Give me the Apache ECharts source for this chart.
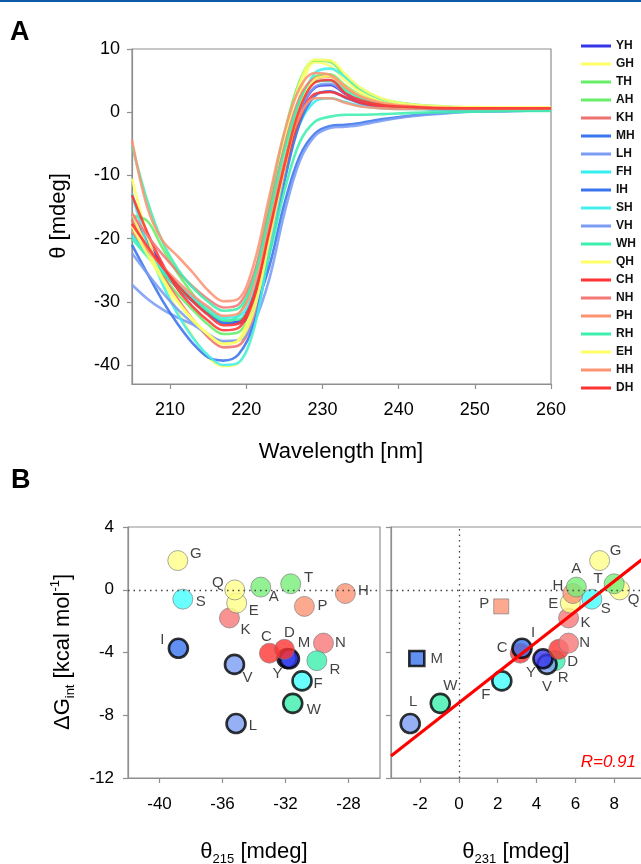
<!DOCTYPE html>
<html><head><meta charset="utf-8">
<script src="https://cdn.jsdelivr.net/npm/echarts@6/dist/echarts.min.js"></script>
<style>html,body{margin:0;padding:0;background:#fff}#c{width:641px;height:864px}</style>
</head><body><div id="c"></div>
<script>
const FONT = '"Liberation Sans", Arial, Helvetica, sans-serif';

// ---------- Panel A data ----------
const wavelengths = [205,207,209,211,213,215,217,219,221,223,225,227,229,231,233,235,238,242,246,250,255,260];
const YH = [-16.1,-20.5,-24.3,-27.4,-29.8,-31.8,-33.3,-33.1,-28.9,-19.0,-8.7,-0.1,3.9,4.3,2.9,1.6,0.8,0.6,0.5,0.5,0.5,0.5];
const GH = [-10.5,-19.5,-26.5,-31.5,-35.5,-38.8,-40.2,-39.7,-34.4,-21.8,-8.7,2.5,7.9,7.3,5.0,3.2,1.8,1.1,0.8,0.7,0.7,0.7];
const TH = [-16.4,-17.2,-21.5,-25.5,-28.8,-31.7,-33.2,-32.1,-26.2,-14.6,-3.4,4.9,8.2,8.0,5.6,3.6,2.0,1.2,0.9,0.7,0.6,0.5];
const AH = [-19.0,-22.5,-25.8,-28.8,-31.3,-33.6,-35.1,-34.8,-30.2,-19.4,-8.2,1.3,5.6,6.0,4.2,2.7,1.5,1.0,0.7,0.6,0.5,0.5];
const KH = [-17.0,-21.5,-25.8,-29.5,-32.8,-35.6,-37.2,-36.9,-32.1,-20.9,-9.2,0.7,5.1,5.6,3.9,2.5,1.4,0.9,0.7,0.6,0.5,0.5];
const MH = [-19.0,-22.3,-25.3,-27.8,-30.0,-31.9,-33.3,-33.4,-31.0,-24.5,-14.5,-7.0,-3.4,-2.2,-2.0,-1.7,-1.1,-0.5,-0.1,0.1,0.2,0.3];
const LH = [-27.3,-29.5,-31.2,-32.5,-33.6,-35.1,-36.2,-36.1,-33.3,-26.5,-16.0,-7.8,-3.8,-2.5,-2.3,-2.0,-1.3,-0.6,-0.2,0.1,0.2,0.3];
const FH = [-19.5,-22.3,-25.0,-27.3,-29.3,-31.0,-32.5,-32.3,-28.4,-19.3,-9.9,-1.9,1.7,2.2,1.6,1.0,0.6,0.5,0.4,0.4,0.4,0.4];
const IH = [-21.0,-25.5,-29.8,-33.5,-36.6,-38.8,-39.3,-38.3,-33.5,-22.5,-11.0,-1.8,2.6,3.3,2.3,1.4,0.8,0.6,0.5,0.5,0.5,0.5];
const SH = [-12.9,-21.0,-27.2,-32.0,-35.7,-38.5,-40.0,-39.6,-34.3,-22.0,-9.4,1.0,6.2,6.9,5.6,3.8,2.0,1.2,0.8,0.6,0.5,0.4];
const VH = [-22.3,-25.5,-28.5,-31.2,-33.4,-35.2,-36.4,-36.0,-31.4,-20.5,-9.3,0.0,4.0,4.5,3.0,1.8,1.0,0.7,0.6,0.5,0.5,0.5];
const WH = [-20.0,-22.8,-25.4,-27.7,-29.8,-31.5,-32.9,-32.8,-30.0,-22.6,-12.5,-4.8,-1.5,-0.7,-0.4,-0.4,-0.3,-0.1,0.0,0.1,0.2,0.2];
const QH = [-16.0,-21.5,-26.2,-30.0,-33.0,-35.2,-36.7,-36.0,-30.0,-17.5,-4.8,4.5,8.3,8.2,6.0,3.9,2.1,1.2,0.9,0.8,0.7,0.7];
const CH = [-13.1,-19.0,-24.0,-28.0,-30.8,-33.0,-34.5,-34.1,-29.5,-19.5,-9.2,-1.0,2.9,3.2,2.4,1.5,0.9,0.7,0.6,0.6,0.6,0.6];
const NH = [-16.0,-19.5,-22.5,-25.2,-27.6,-29.6,-30.9,-30.4,-25.6,-15.8,-5.5,2.3,5.4,5.7,4.0,2.5,1.4,0.9,0.7,0.6,0.6,0.6];
const PH = [-18.9,-21.8,-24.4,-26.8,-29.0,-30.8,-32.2,-31.8,-27.3,-17.6,-7.8,-0.6,2.2,2.2,1.5,0.9,0.6,0.5,0.5,0.5,0.5,0.5];
const RH = [-5.2,-14.0,-20.5,-24.8,-27.8,-30.0,-31.4,-31.0,-26.3,-16.4,-6.2,1.7,4.8,5.0,3.5,2.2,1.2,0.8,0.6,0.5,0.5,0.4];
const EH = [-18.0,-22.5,-26.5,-30.0,-32.8,-35.1,-36.6,-36.2,-31.4,-20.4,-9.0,0.6,5.2,5.7,4.0,2.6,1.5,1.0,0.8,0.7,0.7,0.7];
const HH = [-4.4,-15.0,-20.3,-22.8,-25.4,-28.2,-29.9,-29.5,-24.0,-13.5,-3.2,3.8,6.2,5.9,4.0,2.5,1.4,0.9,0.7,0.6,0.6,0.6];
const DH = [-17.7,-21.2,-24.5,-27.4,-29.9,-32.1,-33.7,-33.4,-29.0,-19.0,-8.5,0.5,4.7,5.1,3.0,1.9,1.1,0.8,0.6,0.6,0.6,0.6];
const curveNames = ['YH','GH','TH','AH','KH','MH','LH','FH','IH','SH','VH','WH','QH','CH','NH','PH','RH','EH','HH','DH'];
const curveValues = [YH,GH,TH,AH,KH,MH,LH,FH,IH,SH,VH,WH,QH,CH,NH,PH,RH,EH,HH,DH];
const ticksA_x = [210,220,230,240,250,260];
const ticksA_y = [-40,-30,-20,-10,0,10];

// ---------- Panel B data ----------
const residues = ['Y','G','T','A','K','M','L','F','I','S','V','W','Q','C','N','P','R','E','H','D'];
const theta215 = [-31.75,-38.84,-31.67,-33.57,-35.56,-31.9,-35.14,-30.95,-38.8,-38.52,-35.24,-31.54,-35.22,-33.02,-29.59,-30.8,-30.01,-35.1,-28.2,-32.07];
const theta231 = [4.33,7.25,8.0,6.05,5.65,-2.17,-2.51,2.21,3.25,6.85,4.54,-0.96,8.28,3.16,5.65,2.18,4.96,5.74,5.87,5.14];
const dGint = [-4.4,1.86,0.38,0.17,-1.8,-4.38,-8.53,-5.81,-3.73,-0.6,-4.76,-7.24,-0.01,-4.04,-3.4,-1.06,-4.52,-0.85,-0.24,-3.8];
const fitX = [-3.5, 10];
const fitY = [-10.6, 2.48];
const ticksBL_x = [-40,-36,-32,-28];
const ticksBR_x = [-2,0,2,4,6,8,10];
const rLabel = 'R=0.91';

// ---------- styles ----------
const curveColors = {YH:'#3535ea',GH:'#ffff66',TH:'#66ee66',AH:'#66ee66',KH:'#f07070',MH:'#3a74ee',LH:'#7a9cf2',
  FH:'#33eeee',IH:'#3a74ee',SH:'#44eeee',VH:'#7a9cf2',WH:'#3cefae',QH:'#ffff66',CH:'#ff3333',NH:'#f77777',
  PH:'#fc9474',RH:'#3cefae',EH:'#ffff66',HH:'#fc9474',DH:'#ff3333'};
const resColor = {Y:'#3535ea',G:'#ffff88',T:'#77ee77',A:'#77ee77',K:'#f77777',M:'#3a74ee',L:'#7a9cf2',F:'#44ffff',
  I:'#3a74ee',S:'#44ffff',V:'#7a9cf2',W:'#3cefae',Q:'#ffff88',C:'#ff3333',N:'#f77777',P:'#fc9474',R:'#3cefae',
  E:'#ffff88',H:'#fc9474',D:'#ff3333'};
const thick = {I:1,V:1,L:1,Y:1,M:1,F:1,W:1};
const leftOrder = ['G','S','I','K','E','Q','A','T','P','H','M','Y','C','D','N','R','V','L','F','W'];
const rightOrder = ['L','W','M','F','P','C','I','R','V','Y','D','N','K','E','H','A','S','Q','T','G'];
const leftOff = {G:[18,-7],S:[18,3],I:[-16,-8],Q:[-17,-7],E:[17,8],K:[16,12],V:[13,13],L:[17,2],A:[13,10],T:[18,-6],
  P:[18,-1],C:[-3,-16],D:[5,-17],M:[17,-16],Y:[-12,15],N:[17,0],R:[18,9],F:[16,3],W:[21,7],H:[18,-3]};
const rightOff = {G:[16,-10],A:[0,-18],H:[-15,-8],E:[-17,1],S:[14,10],T:[-16,-5],Q:[14,10],K:[17,5],P:[-17,-3],
  I:[11,-15],C:[-18,-5],Y:[-12,14],V:[0,22],R:[8,17],D:[14,12],N:[16,0],M:[20,0],W:[10,-17],L:[3,-22],F:[-16,14]};

function pt(r, x, y, panel) {
  const th = !!thick[r];
  const sq = panel === 'R' && (r === 'P' || r === 'M');
  return {
    value: [x, y], name: r,
    symbol: sq ? 'rect' : 'circle',
    symbolSize: sq ? 15 : (th ? 19 : 20),
    itemStyle: {color: resColor[r], borderColor: th ? '#000' : '#777', borderWidth: th ? 2.6 : 0.8},
    label: {show: true, formatter: r, position: 'inside', offset: (panel === 'R' ? rightOff : leftOff)[r],
      color: '#111', fontSize: 15, fontFamily: FONT}
  };
}
const leftData = leftOrder.map(r => { const i = residues.indexOf(r); return pt(r, theta215[i], dGint[i], 'L'); });
const rightData = rightOrder.map(r => { const i = residues.indexOf(r); return pt(r, theta231[i], dGint[i], 'R'); });

const AX = '#8f8f8f';
function vAxis(grid, min, max, extra) {
  return Object.assign({
    gridIndex: grid, type: 'value', min: min, max: max, splitLine: {show: false},
    axisLine: {show: true, onZero: false, lineStyle: {color: AX, width: 1.2}},
    axisTick: {show: true, inside: false, length: 5, lineStyle: {color: AX, width: 1.2}},
    axisLabel: {show: true, color: '#000', fontSize: 17, fontFamily: FONT}
  }, extra);
}

const series = curveNames.map((n, k) => ({
  name: n, type: 'line', xAxisIndex: 0, yAxisIndex: 0, smooth: 0.35, symbol: 'none', showSymbol: false,
  lineStyle: {color: curveColors[n], width: 2.6, opacity: 0.88}, itemStyle: {color: curveColors[n]},
  data: wavelengths.map((w, i) => [w, curveValues[k][i]]), z: 2
}));
const dotted = {type: [1.5, 4], color: '#444', width: 1.3};
series.push({
  name: 'left', type: 'scatter', xAxisIndex: 1, yAxisIndex: 1, data: leftData, z: 3,
  markLine: {silent: true, symbol: ['none','none'], label: {show: false}, lineStyle: dotted, data: [{yAxis: 0}], animation: false}
});
series.push({
  name: 'right', type: 'scatter', xAxisIndex: 2, yAxisIndex: 2, data: rightData, z: 3,
  markLine: {silent: true, symbol: ['none','none'], label: {show: false}, lineStyle: dotted, data: [{yAxis: 0}, {xAxis: 0}], animation: false}
});
series.push({
  name: 'fit', type: 'line', xAxisIndex: 2, yAxisIndex: 2, symbol: 'none', z: 4,
  lineStyle: {color: '#ff0000', width: 3}, data: fitX.map((x, i) => [x, fitY[i]])
});

const T = (o) => Object.assign({type: 'text'}, o);
const option = {
  animation: false,
  backgroundColor: '#fff',
  grid: [
    {left: 132, top: 49, width: 419, height: 335, show: true, borderColor: AX, borderWidth: 1.2, outerBoundsMode: 'none', containLabel: false},
    {left: 128, top: 527, width: 252, height: 251, show: true, borderColor: AX, borderWidth: 1.2, outerBoundsMode: 'none', containLabel: false},
    {left: 391, top: 527, width: 262, height: 251, show: true, borderColor: AX, borderWidth: 1.2, outerBoundsMode: 'none', containLabel: false}
  ],
  xAxis: [
    vAxis(0, 205, 260, {axisTick: {show: true, length: 5, customValues: ticksA_x, lineStyle: {color: AX, width: 1.2}},
      axisLabel: {customValues: ticksA_x, color: '#000', fontSize: 18, fontFamily: FONT, margin: 17}}),
    vAxis(1, -42, -26, {axisTick: {show: true, length: 5, customValues: ticksBL_x, lineStyle: {color: AX, width: 1.2}},
      axisLabel: {customValues: ticksBL_x, color: '#000', fontSize: 17, fontFamily: FONT, margin: 18}}),
    vAxis(2, -3.5, 10, {axisTick: {show: true, length: 5, customValues: ticksBR_x, lineStyle: {color: AX, width: 1.2}},
      axisLabel: {customValues: ticksBR_x, color: '#000', fontSize: 17, fontFamily: FONT, margin: 18}})
  ],
  yAxis: [
    vAxis(0, -43, 10, {axisTick: {show: true, length: 5, customValues: ticksA_y, lineStyle: {color: AX, width: 1.2}},
      axisLabel: {customValues: ticksA_y, color: '#000', fontSize: 18, fontFamily: FONT, margin: 12}}),
    vAxis(1, -12, 4, {interval: 4, axisLabel: {color: '#000', fontSize: 17, fontFamily: FONT, margin: 14}}),
    vAxis(2, -12, 4, {interval: 4, axisLabel: {show: false}})
  ],
  legend: {
    orient: 'vertical', left: 581, top: 40, padding: 0, itemWidth: 30, itemHeight: 3, itemGap: 6, icon: 'rect',
    textStyle: {fontSize: 12, fontWeight: 'bold', fontFamily: FONT, color: '#111', lineHeight: 12},
    data: curveNames, selectedMode: false
  },
  series: series,
  graphic: [
    {type: 'rect', shape: {x: 0, y: 0, width: 641, height: 2}, style: {fill: '#0f5aa6'}},
    T({x: 10, y: 19, style: {text: 'A', fontSize: 27, fontWeight: 'bold', fontFamily: FONT, fill: '#000'}}),
    T({x: 11, y: 467, style: {text: 'B', fontSize: 27, fontWeight: 'bold', fontFamily: FONT, fill: '#000'}}),
    T({x: 341, y: 452, style: {text: 'Wavelength [nm]', fontSize: 22, fontFamily: FONT, fill: '#000', align: 'center', verticalAlign: 'middle'}}),
    T({x: 59, y: 216, rotation: Math.PI / 2, style: {text: 'θ [mdeg]', fontSize: 22, fontFamily: FONT, fill: '#000', align: 'center', verticalAlign: 'middle'}}),
    T({x: 254, y: 852, style: {text: '{a|θ}{s|215}{a| [mdeg]}', fontFamily: FONT, fill: '#000', align: 'center', verticalAlign: 'middle',
      rich: {a: {fontSize: 22, lineHeight: 28, fontFamily: FONT}, s: {fontSize: 13, lineHeight: 13, verticalAlign: 'bottom', fontFamily: FONT}}}}),
    T({x: 516, y: 852, style: {text: '{a|θ}{s|231}{a| [mdeg]}', fontFamily: FONT, fill: '#000', align: 'center', verticalAlign: 'middle',
      rich: {a: {fontSize: 22, lineHeight: 28, fontFamily: FONT}, s: {fontSize: 13, lineHeight: 13, verticalAlign: 'bottom', fontFamily: FONT}}}}),
    T({x: 63, y: 652, rotation: Math.PI / 2, style: {text: '{a|ΔG}{s|int}{a| [kcal mol}{p|-1}{a|]}', fontFamily: FONT, fill: '#000', align: 'center', verticalAlign: 'middle',
      rich: {a: {fontSize: 22, lineHeight: 28, fontFamily: FONT}, s: {fontSize: 13, lineHeight: 13, verticalAlign: 'bottom', fontFamily: FONT},
        p: {fontSize: 13, lineHeight: 13, verticalAlign: 'top', fontFamily: FONT}}}}),
    T({x: 636, y: 762, style: {text: rLabel, fontSize: 17, fontStyle: 'italic', fontFamily: FONT, fill: '#ff0000', align: 'right', verticalAlign: 'middle'}})
  ]
};
const chart = echarts.init(document.getElementById('c'), null, {renderer: 'canvas'});
chart.setOption(option);
</script></body></html>
